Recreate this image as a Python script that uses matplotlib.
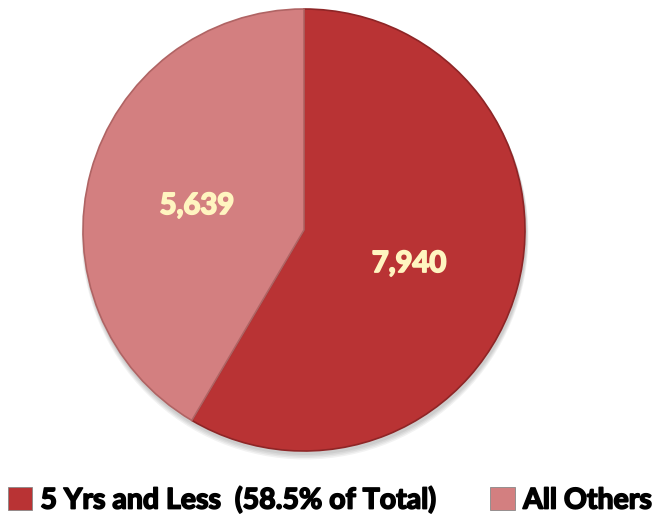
import matplotlib
matplotlib.use("Agg")
import matplotlib.pyplot as plt
import matplotlib.patheffects as pe
from matplotlib.patches import Circle

categories = ["5 Yrs and Less  (58.5% of Total)", "All Others"]
values = [7940, 5639]
value_labels = ["7,940", "5,639"]
colors = ["#B93334", "#D37F80"]
edge_colors = ["#8E2526", "#B06464"]

W, H = 653, 519
fig = plt.figure(figsize=(W / 100, H / 100), dpi=100)
ax = fig.add_axes([0, 0, 1, 1])

cx, cy, r = 304, H - 230, 221
# soft drop shadow
for i, a in enumerate([0.05, 0.05, 0.05, 0.05]):
    ax.add_patch(Circle((cx + 1, cy - 3 - i), r + 1 + i * 0.5, color="black",
                        alpha=a, lw=0, zorder=0))
wedges, _ = ax.pie(values, colors=colors, startangle=90, counterclock=False,
                   center=(cx, cy), radius=r, frame=True,
                   wedgeprops=dict(linewidth=1.2, zorder=1))
for w, ec in zip(wedges, edge_colors):
    w.set_edgecolor(ec)
ax.set_xlim(0, W)
ax.set_ylim(0, H)
ax.set_aspect("equal")
ax.axis("off")

fam = ["Lato", "DejaVu Sans"]
label_color = "#FFF5C0"
label_pos = [(409, H - 264), (197, H - 206)]
for (x, y), t in zip(label_pos, value_labels):
    ax.text(x, y, t, ha="center", va="center", fontsize=21, fontweight="bold",
            family=fam, color=label_color, zorder=5,
            path_effects=[pe.withStroke(linewidth=1.3, foreground=label_color)])

leg = fig.legend(wedges, categories, loc="center", bbox_to_anchor=(0.505, 1 - 500 / H),
                 ncol=2, frameon=False,
                 prop=dict(family=fam, weight="bold", size=20.5),
                 handlelength=0.85, handleheight=0.85, handletextpad=0.3,
                 columnspacing=1.9)
for t in leg.get_texts():
    t.set_path_effects([pe.withStroke(linewidth=1.2, foreground="black")])
for h in leg.legend_handles:
    h.set_edgecolor("#888888")
    h.set_linewidth(0.6)

fig.savefig("out.png", dpi=100)
